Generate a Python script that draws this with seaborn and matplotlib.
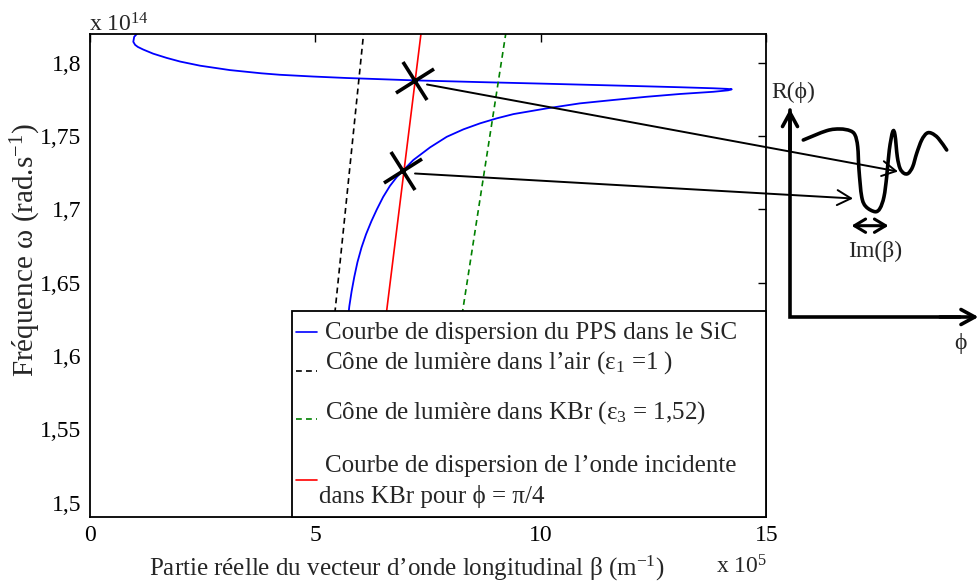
import numpy as np
import matplotlib
matplotlib.use("Agg")
import matplotlib.pyplot as plt
import seaborn as sns
from matplotlib.path import Path
from matplotlib.patches import PathPatch, Rectangle
from matplotlib.markers import MarkerStyle
from matplotlib.transforms import Affine2D

# Surface phonon polariton (PPS) dispersion in SiC
# beta in units of 1e5 m^-1, omega in units of 1e14 rad/s
pps_beta = [1.12, 1.05, 0.98, 0.96, 1.00, 1.06, 1.18, 1.40, 1.70, 2.00, 2.44, 3.10,
            3.80, 4.21, 4.95, 5.69, 6.43, 7.17, 8.65, 9.98, 10.86, 12.00, 13.08,
            13.82, 14.12, 14.23, 14.15, 13.82, 13.08, 12.34, 11.60, 10.86, 10.13,
            9.39, 9.02, 8.65, 8.28, 7.91, 7.54, 7.17, 6.95, 6.80, 6.65, 6.50, 6.36,
            6.24, 6.12, 6.02, 5.93, 5.86, 5.80, 5.75, 5.70, 5.62, 5.52, 5.45]
pps_omega = [1.8240, 1.8200, 1.8177, 1.8143, 1.8122, 1.8108, 1.8090, 1.8062, 1.8033,
             1.8008, 1.7980, 1.7950, 1.7928, 1.7918, 1.7906, 1.7896, 1.7888, 1.7880,
             1.7868, 1.7858, 1.7851, 1.7842, 1.7833, 1.7826, 1.7822, 1.7819, 1.7812,
             1.7802, 1.7787, 1.7768, 1.7746, 1.7723, 1.7689, 1.7650, 1.7621, 1.7587,
             1.7546, 1.7495, 1.7423, 1.7337, 1.7268, 1.7220, 1.7160, 1.7085, 1.7000,
             1.6920, 1.6830, 1.6740, 1.6640, 1.6540, 1.6440, 1.6340, 1.6200, 1.5900,
             1.5400, 1.4900]

# Straight dispersion lines (beta = n * omega / c) at two frequencies
line_omega = [1.48, 1.83]
air_beta = [4.93, 6.10]        # light cone in air (eps1 = 1)
kbr_beta = [7.50, 9.27]        # light cone in KBr (eps3 = 1.52)
incident_beta = [5.97, 7.38]   # incident wave in KBr, phi = pi/4

# Crossing points between the incident wave and the PPS branches
cross_beta = [7.21, 6.95]
cross_omega = [1.7877, 1.7262]

y_ticks = [1.5, 1.55, 1.6, 1.65, 1.7, 1.75, 1.8]
y_tick_labels = ["1,5", "1,55", "1,6", "1,65", "1,7", "1,75", "1,8"]
x_ticks = [0, 5, 10, 15]
x_tick_labels = ["0", "5", "10", "15"]

labels = [
    "Courbe de dispersion du PPS dans le SiC",
    "Cône de lumière dans l\u2019air (ε$_1$ =1 )",
    "Cône de lumière dans KBr (ε$_3$ = 1,52)",
    "Courbe de dispersion de l\u2019onde incidente",
    "dans KBr pour \u03d5 = π/4",
]

sns.set_style("white")
SERIF = ["Liberation Serif", "DejaVu Serif"]
plt.rcParams["font.family"] = SERIF
plt.rcParams["mathtext.fontset"] = "custom"
plt.rcParams["mathtext.rm"] = "Liberation Serif"
plt.rcParams["mathtext.it"] = "Liberation Serif:italic"
plt.rcParams["mathtext.bf"] = "Liberation Serif:bold"
FS = 17
FL = 18

W, H = 979, 587
fig = plt.figure(figsize=(W / 100, H / 100), dpi=100)
L, R, T, B = 90, 766.5, 34, 516.7
ax = fig.add_axes([L / W, 1 - B / H, (R - L) / W, (B - T) / H])

blue, green, red = "#0000ff", "#008000", "#ff0000"
dash = (0, (3.5, 2.5))
sns.lineplot(x=pps_beta, y=pps_omega, sort=False, estimator=None, color=blue,
             lw=1.3, ax=ax)
sns.lineplot(x=air_beta, y=line_omega, sort=False, estimator=None, color="black",
             lw=1.2, ls=dash, ax=ax)
sns.lineplot(x=kbr_beta, y=line_omega, sort=False, estimator=None, color=green,
             lw=1.2, ls=dash, ax=ax)
sns.lineplot(x=incident_beta, y=line_omega, sort=False, estimator=None, color=red,
             lw=1.2, ax=ax)

cross_marker = MarkerStyle("x", transform=Affine2D().rotate_deg(-12))
ax.plot(cross_beta, cross_omega, ls="none", marker=cross_marker, ms=23, mew=2.6,
        color="black", zorder=6)

ax.set_xlim(0, 15)
ax.set_ylim(1.4905, 1.8196)
ax.set_xticks(x_ticks)
ax.set_xticklabels(x_tick_labels)
ax.set_yticks(y_ticks)
ax.set_yticklabels(y_tick_labels)
ax.tick_params(direction="in", length=6, width=1, top=True, right=True,
               labelsize=FS, pad=6, colors="black")
for sp in ax.spines.values():
    sp.set_visible(True)
    sp.set_color("black")
    sp.set_linewidth(1.3)

ax.set_xlabel("Partie réelle du vecteur d\u2019onde longitudinal β (m$^{-1}$)", fontsize=FL)
ax.xaxis.set_label_coords((407 - L) / (R - L), -(554 - B) / (B - T))
ax.set_ylabel("Fréquence ω (rad.s$^{-1}$)", fontsize=21)
ax.yaxis.set_label_coords((43 - L) / (R - L), (B - 250) / (B - T))

# Overlay in pixel coordinates for legend, annotations and the R(phi) sketch
ov = fig.add_axes([0, 0, 1, 1], zorder=10)
ov.set_xlim(0, W)
ov.set_ylim(H, 0)
ov.axis("off")
ov.patch.set_alpha(0)

# Legend box
ov.add_patch(Rectangle((292, 310.7), 766.5 - 292, 516.7 - 310.7, facecolor="white",
                       edgecolor="black", lw=1.3, zorder=1))
handle_styles = [(blue, "-"), ("black", dash), (green, dash), (red, "-")]
handle_y = [332, 370.5, 419, 480]
for (c, ls), hy in zip(handle_styles, handle_y):
    ov.plot([296, 317], [hy, hy], color=c, ls=ls, lw=1.2, zorder=2)
text_pos = [(325, 339.3), (325, 368.3), (325, 418.3), (325, 471.7), (319, 503.3)]
for lab, (tx, ty) in zip(labels, text_pos):
    ov.text(tx, ty, lab, ha="left", va="baseline", fontsize=FL, zorder=3)

ov.text(89, 31, "x 10$^{14}$", ha="left", va="baseline", fontsize=FS)
ov.text(716, 573, "x 10$^{5}$", ha="left", va="baseline", fontsize=FS)

arrow_kw = dict(arrowstyle="->,head_length=0.55,head_width=0.3", lw=1.4,
                color="black", shrinkA=0, shrinkB=0, mutation_scale=18)
ov.annotate("", xy=(898, 171.5), xytext=(427, 84.5), arrowprops=arrow_kw)
ov.annotate("", xy=(853, 198.5), xytext=(415, 173.5), arrowprops=arrow_kw)

# Sketch of R(phi)
axis_kw = dict(arrowstyle="->,head_length=0.55,head_width=0.3", lw=2.6,
               color="black", shrinkA=0, shrinkB=0, mutation_scale=18)
ov.plot([790, 790, 960], [110, 317, 317], color="black", lw=2.6,
        solid_joinstyle="miter")
ov.annotate("", xy=(790, 109), xytext=(790, 150), arrowprops=axis_kw)
ov.annotate("", xy=(978.5, 317), xytext=(940, 317), arrowprops=axis_kw)

sketch = np.array([
    (803.3, 140), (826.7, 130.7), (840, 129), (850, 130.7), (855, 135),
    (857.7, 146.7), (859, 170), (861.7, 196.7), (866, 206.7), (875, 211.7),
    (880, 208.3), (884, 196.7), (886.7, 176.7), (889.3, 150), (892.7, 131.7),
    (895, 135), (897.3, 156.7), (900, 168.3), (904, 173.3), (908.3, 173.3),
    (912.7, 166.7), (916.7, 153.3), (921.7, 140), (926.7, 133.3), (931.7, 133.3),
    (938.3, 138.3), (946.7, 150)])
verts = [tuple(sketch[0])]
codes = [Path.MOVETO]
n = len(sketch)
for i in range(n - 1):
    p0 = sketch[max(i - 1, 0)]
    p1 = sketch[i]
    p2 = sketch[i + 1]
    p3 = sketch[min(i + 2, n - 1)]
    c1 = p1 + (p2 - p0) / 6.0
    c2 = p2 - (p3 - p1) / 6.0
    verts += [tuple(c1), tuple(c2), tuple(p2)]
    codes += [Path.CURVE4] * 3
ov.add_patch(PathPatch(Path(verts, codes), fill=False, lw=2.6, edgecolor="black",
                       capstyle="round", joinstyle="round"))

ov.annotate("", xy=(851.5, 225.7), xytext=(888.5, 225.7),
            arrowprops=dict(arrowstyle="<->,head_length=0.5,head_width=0.3", lw=2.2,
                            color="black", shrinkA=0, shrinkB=0, mutation_scale=16))
ov.text(793, 92, "R(\u03d5)", ha="center", va="center", fontsize=FS)
ov.text(875, 251, "Im(β)", ha="center", va="center", fontsize=FS)
ov.text(960, 343, "\u03d5", ha="center", va="center", fontsize=FS)

fig.savefig("out.png", dpi=100)
